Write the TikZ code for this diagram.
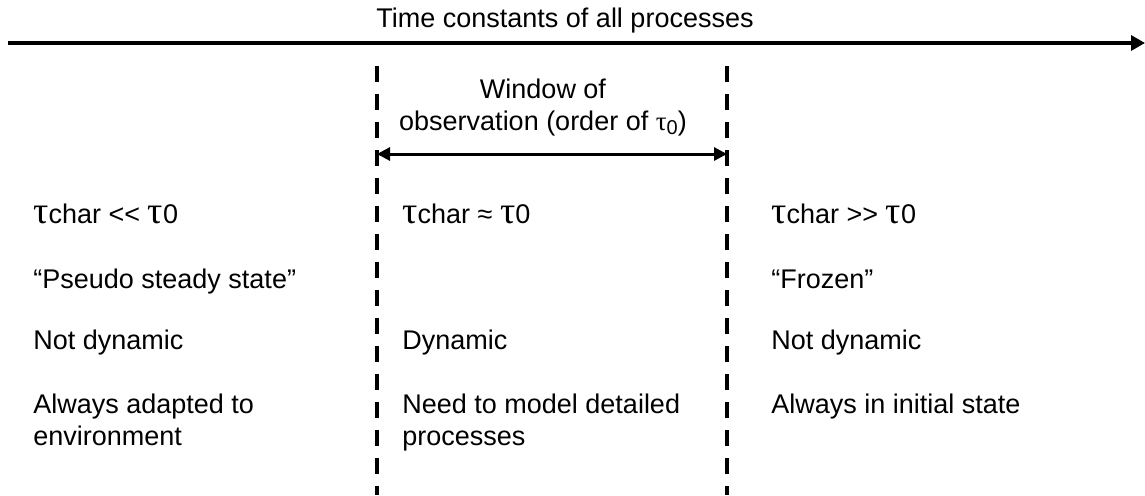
\documentclass[tikz,border=0pt]{standalone}
\usepackage{fontspec}
\setmainfont{Liberation Sans}
\newfontfamily\greekfont{Liberation Serif}
\usetikzlibrary{arrows.meta}

% time constant symbol, set larger than the text round it
\newcommand{\tc}{{\greekfont\fontsize{19}{19}\selectfont τ}}

\begin{document}
\begin{tikzpicture}[x=0.5pt,y=-0.5pt,
		font=\fontsize{13.5}{16}\selectfont,
		txt/.style={anchor=base west,inner sep=0pt,align=left},
		window/.style={line width=1.6pt,dash pattern=on 8pt off 6pt},
		tip/.style={Triangle[length=6.5pt,width=6.5pt]}]
	\useasboundingbox (0,0) rectangle (1145,495);
	
	% time axis
	\coordinate (ax-l) at (8,43);
	\coordinate (ax-r) at (1145,43);
	\draw[line width=1.6pt,-{Triangle[length=7pt,width=7.5pt]}] (ax-l) -- (ax-r);
	\node[anchor=base,inner sep=0pt] (axis-title) at (565,27) {Time constants of all processes};
	
	% window of observation
	\coordinate (win-l-top) at (377,66);
	\coordinate (win-l-bot) at (377,495);
	\coordinate (win-r-top) at (727,66);
	\coordinate (win-r-bot) at (727,495);
	\draw[window] (win-l-top) -- (win-l-bot);
	\draw[window] (win-r-top) -- (win-r-bot);
	\coordinate (win-l) at (377,154);
	\coordinate (win-r) at (727,154);
	\draw[line width=1.5pt,{Triangle[length=6.5pt,width=6.5pt]}-{Triangle[length=6.5pt,width=6.5pt]}] (win-l) -- (win-r);
	% base of a two-line node sits on its last line
	\node[anchor=base,inner sep=0pt,align=center] (win-title) at (543,130)
		{Window of\\observation (order of {\greekfont τ}\raisebox{-0.3ex}{\fontsize{10}{10}\selectfont 0})};
	
	% fast processes
	\node[txt] (lo-tau) at (33,223) {\tc char <\kern0pt< \tc 0};
	\node[txt] (lo-state) at (33,288) {“Pseudo steady state”};
	\node[txt] (lo-dyn) at (33,349) {Not dynamic};
	\node[txt] (lo-env) at (33,445) {Always adapted to\\environment};
	
	% processes in the window
	\node[txt] (mid-tau) at (402,223) {\tc char ≈ \tc 0};
	\node[txt] (mid-dyn) at (402,349) {Dynamic};
	\node[txt] (mid-need) at (402,445) {Need to model detailed\\processes};
	
	% slow processes
	\node[txt] (hi-tau) at (771,223) {\tc char >\kern0pt> \tc 0};
	\node[txt] (hi-state) at (771,288) {“Frozen”};
	\node[txt] (hi-dyn) at (771,349) {Not dynamic};
	\node[txt] (hi-init) at (771,413) {Always in initial state};
\end{tikzpicture}
\end{document}
